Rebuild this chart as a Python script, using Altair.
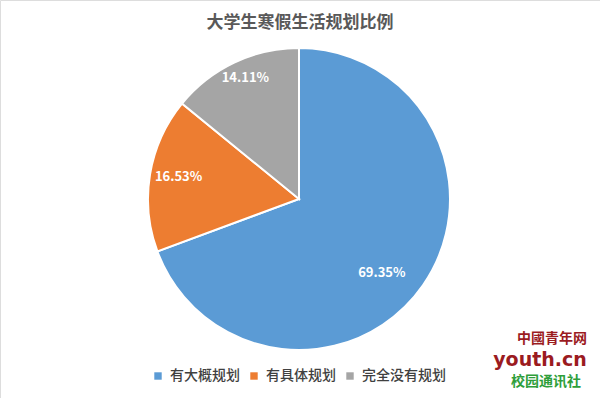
import altair as alt
import pandas as pd

categories = ["有大概规划", "有具体规划", "完全没有规划"]
values = [69.35, 16.53, 14.11]
colors = ["#5B9BD5", "#ED7D31", "#A5A5A5"]
title_text = "大学生寒假生活规划比例"

df = pd.DataFrame({"cat": categories, "val": values, "ord": [0, 1, 2]})
df["label"] = [f"{v:.2f}%" for v in values]

FONT = "Noto Sans CJK SC"
CX, CY, R = 299, 199, 151

base = alt.Chart(df).encode(
    theta=alt.Theta("val:Q", stack=True),
    order=alt.Order("ord:Q"),
)

pie = base.mark_arc(stroke="white", strokeWidth=2).encode(
    color=alt.Color(
        "cat:N",
        scale=alt.Scale(domain=categories, range=colors),
        sort=categories,
        legend=alt.Legend(
            title=None,
            orient="none",
            direction="horizontal",
            legendX=151,
            legendY=369,
            symbolType="square",
            symbolSize=55,
            symbolStrokeWidth=0,
            labelFont=FONT,
            labelFontSize=14,
            labelFontWeight=500,
            labelColor="#404040",
            columnPadding=7,
            symbolOffset=0,
            labelOffset=5,
        ),
    ),
    x=alt.value(CX),
    y=alt.value(CY),
    radius=alt.value(R),
)

# per-slice label nudges (Excel best-fit placement)
nudges = {categories[0]: (-14, 7), categories[1]: (-4, -3), categories[2]: (-3, -14)}
label_layers = []
for cat, (ddx, ddy) in nudges.items():
    label_layers.append(
        base.mark_text(
            font=FONT, fontSize=13, fontWeight="bold", color="white", dx=ddx, dy=ddy
        ).encode(
            text=alt.condition(alt.datum.cat == cat, "label:N", alt.value("")),
            x=alt.value(CX),
            y=alt.value(CY),
            radius=alt.value(118),
        )
    )

title = alt.Chart(pd.DataFrame({"t": [title_text]})).mark_text(
    font=FONT, fontSize=17, fontWeight="bold", color="#595959"
).encode(text="t:N", x=alt.value(300), y=alt.value(23))

logo1 = alt.Chart(pd.DataFrame({"t": ["中國青年网"]})).mark_text(
    font=FONT, fontSize=14, fontWeight="bold", color="#9B1B1F"
).encode(text="t:N", x=alt.value(552), y=alt.value(339))
logo2 = alt.Chart(pd.DataFrame({"t": ["youth.cn"]})).mark_text(
    font="DejaVu Sans", fontSize=19, fontWeight="bold", color="#9B1B1F", baseline="alphabetic"
).encode(text="t:N", x=alt.value(540), y=alt.value(366))
logo3 = alt.Chart(pd.DataFrame({"t": ["校园通讯社"]})).mark_text(
    font=FONT, fontSize=14, fontWeight="bold", color="#2E9E3A"
).encode(text="t:N", x=alt.value(546), y=alt.value(382))

chart = alt.layer(pie, *label_layers, title, logo1, logo2, logo3).properties(
    width=600, height=398, autosize="none", padding=0
).configure_view(stroke=None).configure(background="white")

chart.save("out.html", embed_options={"renderer": "svg", "actions": False})
